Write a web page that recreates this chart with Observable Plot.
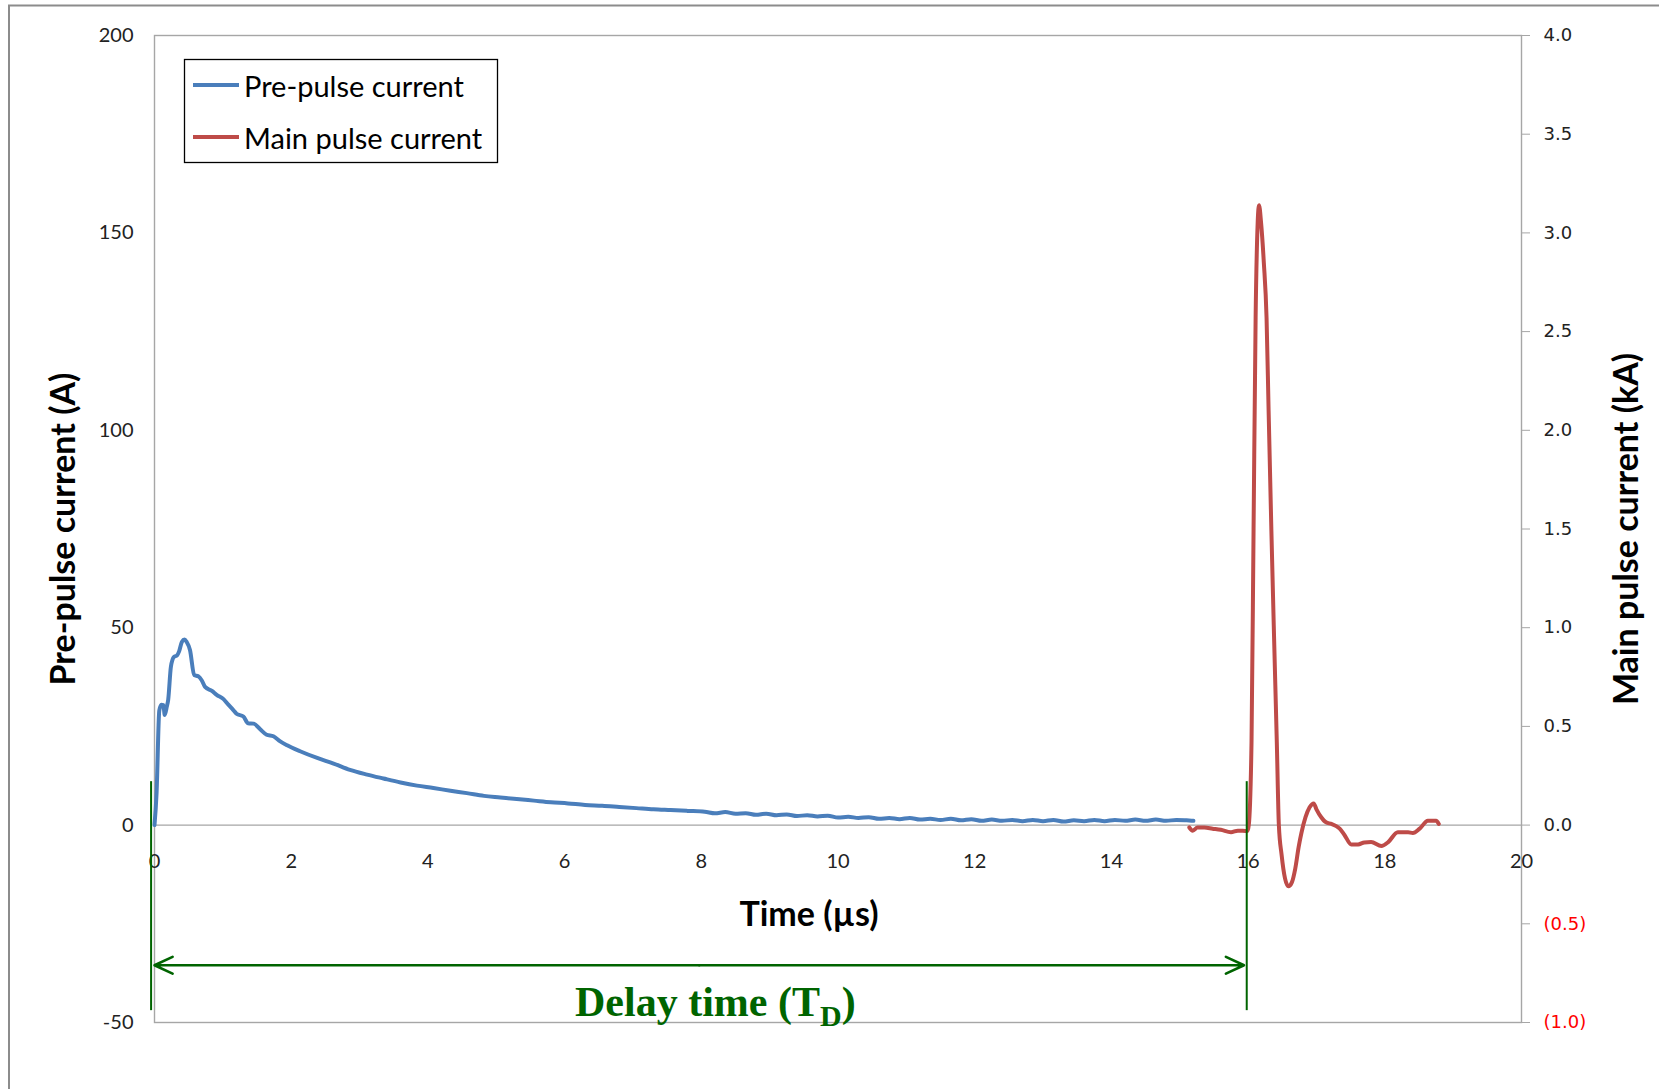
<!DOCTYPE html>
<html><head><meta charset="utf-8">
<script src="https://cdn.jsdelivr.net/npm/d3@7"></script>
<script src="https://cdn.jsdelivr.net/npm/@observablehq/plot@0.6"></script>
<style>
html,body{margin:0;padding:0;background:#fff;}
#wrap{position:relative;width:1659px;height:1089px;overflow:hidden;background:#fff;}
#wrap svg{position:absolute;left:0;top:0;}
</style></head><body><div id="wrap"></div>
<script>
// Pre-pulse current (A) vs time (µs)
const preT = [0,0.03,0.07,0.10,0.13,0.15,0.18,0.20,0.24,0.285,0.33,0.36,0.40,0.44,0.47,0.52,0.58,0.64,0.69,0.74,0.84,0.91,1.01,1.08,1.15,1.20,1.30,1.37,1.45,1.55,1.64,1.74,1.84,1.94,2.13,2.38,2.62,2.86,3.11,3.35,3.60,3.84,4.08,4.33,4.57,4.82,5.06,5.30,5.55,5.80,6.05,6.30,6.55,6.80,7.05,7.30,7.55,7.80,8.05,8.20,8.35,8.50,8.65,8.80,8.95,9.10,9.25,9.40,9.55,9.70,9.85,10.00,10.15,10.30,10.45,10.60,10.75,10.90,11.05,11.20,11.35,11.50,11.65,11.80,11.95,12.10,12.25,12.40,12.55,12.70,12.85,13.00,13.15,13.30,13.45,13.60,13.75,13.90,14.05,14.20,14.35,14.50,14.65,14.80,14.95,15.10,15.20];
const preA = [0,8,29,30.5,30.4,27.9,30,31.7,40.1,42.6,43,44,46.4,47,46.4,44.3,38,37.7,36.7,35,34,33,31.9,30.5,29.2,28.2,27.5,25.8,25.7,24.2,22.9,22.5,21.2,20.2,18.7,17,15.6,14.0,12.8,11.8,10.8,10.0,9.4,8.7,8.1,7.4,7.0,6.6,6.2,5.8,5.5,5.1,4.9,4.6,4.3,4.0,3.8,3.6,3.4,3.0,3.3,2.9,3.0,2.6,2.9,2.5,2.7,2.3,2.5,2.2,2.4,1.9,2.1,1.8,2.0,1.6,1.8,1.5,1.8,1.4,1.6,1.3,1.6,1.2,1.5,1.1,1.4,1.1,1.3,1.0,1.3,1.0,1.3,0.9,1.2,1.0,1.3,1.0,1.3,1.1,1.4,1.1,1.4,1.1,1.3,1.2,1.1];
// Main pulse current (kA) vs time (µs)
const mainT = [15.14,15.19,15.26,15.36,15.48,15.60,15.75,15.85,15.99,16.01,16.05,16.08,16.11,16.14,16.16,16.19,16.23,16.27,16.30,16.34,16.38,16.42,16.45,16.49,16.54,16.59,16.64,16.69,16.74,16.78,16.84,16.90,16.96,17.00,17.07,17.14,17.22,17.29,17.34,17.41,17.51,17.61,17.70,17.80,17.95,18.05,18.19,18.34,18.41,18.51,18.63,18.70,18.75,18.79];
const mainKA = [-0.012,-0.028,-0.012,-0.012,-0.018,-0.024,-0.036,-0.028,-0.030,0,0.42,1.50,2.57,3.05,3.14,3.05,2.85,2.57,2.10,1.50,0.95,0.42,0.0,-0.15,-0.27,-0.31,-0.29,-0.22,-0.11,-0.04,0.04,0.09,0.11,0.08,0.04,0.014,0.006,-0.005,-0.018,-0.05,-0.098,-0.098,-0.088,-0.086,-0.106,-0.086,-0.036,-0.036,-0.04,-0.018,0.022,0.022,0.022,0.006];

const xTicks = [0,2,4,6,8,10,12,14,16,18,20];
const leftTicks = [-50,0,50,100,150,200];
const rightTicksKA = [-1,-0.5,0,0.5,1,1.5,2,2.5,3,3.5,4];
const kAtoA = 50; // right axis 1 kA == 50 A on left axis

const seriesNames = ["Pre-pulse current","Main pulse current"];
const seriesColors = ["#4a7ebb","#be4b48"];
const xTitle = "Time (µs)";
const yLeftTitle = "Pre-pulse current (A)";
const yRightTitle = "Main pulse current (kA)";

// Delay-time annotation
const delayBounds = [0, 15.94];
const delayMarkX = [-0.05, 15.98];
const delayMarkRange = [11, -47];
const delayArrowY = -35.5;
const delayLabelPos = [6.16, -48.4];
const green = "#006400";

const W = 1659, H = 1089;
const pre = preT.map((t,i)=>({t, v: preA[i]}));
const main = mainT.map((t,i)=>({t, v: mainKA[i]*kAtoA}));
const mid = (delayBounds[0]+delayBounds[1])/2;
const arrows = delayBounds.map(b => ({x1: mid, x2: b, y: delayArrowY}));
const fmtK = d => d < 0 ? `(${(-d).toFixed(1)})` : d.toFixed(1);

const chart = Plot.plot({
  width: W, height: H,
  marginLeft: 154, marginRight: 138, marginTop: 35, marginBottom: 67,
  x: {domain: [0,20], axis: null},
  y: {domain: [-50,200], axis: null},
  style: {fontFamily: "Lato, sans-serif", fontSize: "20px", background: "transparent", color: "#000"},
  marks: [
    Plot.frame({stroke: "#a6a6a6", strokeWidth: 1.4}),
    Plot.ruleY([0], {stroke: "#a6a6a6", strokeWidth: 1.4}),
    Plot.axisY(leftTicks, {anchor: "left", tickSize: 0, tickPadding: 21, fontSize: 20, label: null, tickFormat: d => String(d), fill: "#222"}),
    Plot.axisY(rightTicksKA.map(d => d*kAtoA), {anchor: "right", tickSize: 8, stroke: "#a6a6a6", tickFormat: () => "", label: null}),
    Plot.text(rightTicksKA.filter(d => d >= 0), {y: d => d*kAtoA, frameAnchor: "right", dx: 22, textAnchor: "start", text: fmtK, fill: "#222", fontFamily: "DejaVu Sans", fontSize: 18}),
    Plot.text(rightTicksKA.filter(d => d < 0), {y: d => d*kAtoA, frameAnchor: "right", dx: 22, textAnchor: "start", text: fmtK, fill: "#ff0000", fontFamily: "DejaVu Sans", fontSize: 18}),
    Plot.text(xTicks, {x: d => d, y: () => 0, dy: 36, text: d => String(d), fontSize: 20, fill: "#222"}),
    Plot.line(pre, {x: "t", y: "v", stroke: seriesColors[0], strokeWidth: 4, curve: "monotone-x"}),
    Plot.line(main, {x: "t", y: "v", stroke: seriesColors[1], strokeWidth: 4, curve: "monotone-x"}),
    Plot.ruleX(delayMarkX, {y1: delayMarkRange[0], y2: delayMarkRange[1], stroke: green, strokeWidth: 2}),
    Plot.arrow(arrows, {x1: "x1", y1: "y", x2: "x2", y2: "y", stroke: green, strokeWidth: 2.6, headLength: 11.5, headAngle: 50})
  ]
});
const wrap = document.getElementById("wrap");
wrap.appendChild(chart);

const sx = chart.scale("x"), sy = chart.scale("y");
const ov = d3.select(wrap).append("svg").attr("width", W).attr("height", H)
  .style("pointer-events","none");

// outer chart-area border
ov.append("path").attr("d", `M9,${H} V5.5 H${W}`).attr("fill","none").attr("stroke","#8c8c8c").attr("stroke-width",2);

// axis titles
const titleFont = {family: "Lato, sans-serif", size: 34};
ov.append("text").attr("x", 809).attr("y", 912).attr("text-anchor","middle").attr("dominant-baseline","central")
  .attr("font-family",titleFont.family).attr("font-weight",700).attr("font-size",titleFont.size).text(xTitle);
ov.append("text").attr("transform","translate(61,529) rotate(-90)").attr("text-anchor","middle").attr("dominant-baseline","central")
  .attr("font-family",titleFont.family).attr("font-weight",700).attr("font-size",titleFont.size).text(yLeftTitle);
ov.append("text").attr("transform","translate(1624,529) rotate(-90)").attr("text-anchor","middle").attr("dominant-baseline","central")
  .attr("font-family",titleFont.family).attr("font-weight",700).attr("font-size",titleFont.size).text(yRightTitle);

// legend
const lg = ov.append("g");
lg.append("rect").attr("x",184.5).attr("y",59.5).attr("width",313).attr("height",103).attr("fill","#fff").attr("stroke","#000").attr("stroke-width",1.3);
seriesNames.forEach((n,i) => {
  const y = 85 + i*52;
  lg.append("line").attr("x1",193).attr("x2",239).attr("y1",y).attr("y2",y).attr("stroke",seriesColors[i]).attr("stroke-width",4);
  lg.append("text").attr("x",244).attr("y",y).attr("dominant-baseline","central")
    .attr("font-family","Lato, sans-serif").attr("font-size",29).attr("fill","#000").text(n);
});

// delay label
const dt = ov.append("text").attr("x", sx.apply(delayLabelPos[0])).attr("y", sy.apply(delayLabelPos[1]))
  .attr("font-family","Liberation Serif, Times New Roman, serif").attr("font-weight",700).attr("font-size",42).attr("fill",green);
dt.append("tspan").text("Delay time (T");
dt.append("tspan").attr("font-size",30).attr("dy",10).text("D");
dt.append("tspan").attr("dy",-10).text(")");
</script></body></html>
